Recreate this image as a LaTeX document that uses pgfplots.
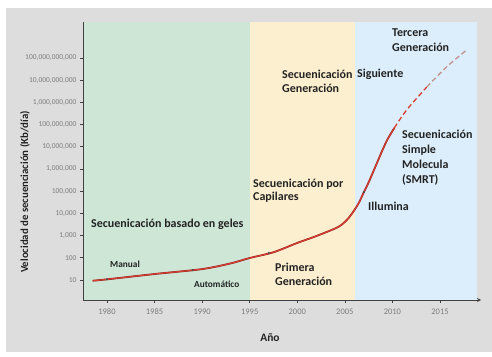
\documentclass[border=0pt]{standalone}
\usepackage{pgfplots}
\pgfplotsset{compat=1.18}
\usepackage{fontspec}
\setmainfont{Carlito}
\definecolor{bgpanel}{RGB}{221,221,221}
\definecolor{gelgreen}{RGB}{205,230,213}
\definecolor{capyellow}{RGB}{252,239,207}
\definecolor{ngsblue}{RGB}{220,238,251}
\definecolor{curvered}{RGB}{218,60,50}
\definecolor{txt}{RGB}{35,35,35}
\definecolor{ticktxt}{RGB}{125,125,125}
\begin{document}
\begin{tikzpicture}[x=1pt,y=1pt]
\useasboundingbox (0,0) rectangle (492,356);
\fill[white] (0,0) rectangle (492,356);
\fill[bgpanel] (6,4) rectangle (492,348);
\begin{axis}[
  scale only axis,
  width=398pt, height=278pt,
  at={(83pt,56pt)}, anchor=south west,
  xmin=1977.48, xmax=2019.31,
  ymode=log, ymin=1.256, ymax=4.2e12,
  axis x line=bottom, axis y line=left,
  axis line style={black!75, line width=0.8pt},
  x axis line style={-stealth},
  y axis line style={-},
  axis on top,
  xtick={1980,1985,...,2015},
  xticklabels={1980,1985,1990,1995,2000,2005,2010,2015},
  ytick={1e1,1e2,1e3,1e4,1e5,1e6,1e7,1e8,1e9,1e10,1e11},
  yticklabels={10,100,{1,000},{10,000},{100,000},{1,000,000},{10,000,000},{100,000,000},{1,000,000,000},{10,000,000,000},{100,000,000,000}},
  minor tick num=0, yminorticks=false,
  tick align=outside, major tick length=3pt,
  tick style={black!75, line width=0.7pt},
  yticklabel style={font=\fontsize{7.5pt}{8pt}\selectfont, text=ticktxt},
  xticklabel style={font=\fontsize{8.5pt}{9pt}\selectfont, text=ticktxt, yshift=-2pt},
]
\fill[gelgreen] (axis cs:1977.48,1.256) rectangle (axis cs:1995.03,4.2e12);
\fill[capyellow] (axis cs:1995.03,1.256) rectangle (axis cs:2006.07,4.2e12);
\fill[ngsblue] (axis cs:2006.07,1.256) rectangle (axis cs:2018.89,4.2e12);
% main curve (solid)
\addplot[smooth, line width=1.8pt, color=black!35!curvered] coordinates {
  (1978.5,9.3) (1980,10.7) (1985,18.6) (1990,31) (1993,56) (1995,98)
  (1997.5,178) (2000,468) (2002,955) (2004.3,2450) (2005.3,5600)
  (2006,14100) (2006.5,31600) (2007,91200) (2007.5,2.5e5) (2008,7.9e5)
  (2008.5,2.5e6) (2009,7.9e6) (2009.5,2.24e7) (2010.2,7.1e7)
};
\addplot[smooth, line width=1.1pt, color=curvered] coordinates {
  (1978.5,9.3) (1980,10.7) (1985,18.6) (1990,31) (1993,56) (1995,98)
  (1997.5,178) (2000,468) (2002,955) (2004.3,2450) (2005.3,5600)
  (2006,14100) (2006.5,31600) (2007,91200) (2007.5,2.5e5) (2008,7.9e5)
  (2008.5,2.5e6) (2009,7.9e6) (2009.5,2.24e7) (2010.2,7.1e7)
};
% projected curve (dashed)
\addplot[smooth, line width=1.3pt, color=curvered, dash pattern=on 5pt off 3pt] coordinates {
  (2010.2,7.1e7) (2011.5,4.6e8) (2013.6,4.9e9)
};
\addplot[smooth, line width=1.3pt, color=curvered!45!gray!70, dash pattern=on 5pt off 3pt] coordinates {
  (2013.6,4.9e9) (2015.7,4.0e10) (2017.8,2.3e11)
};
% small markers on the curve
\addplot[only marks, mark=*, mark size=0.8pt, black!70] coordinates {
  (1980,10.7) (1989,28) (1997,165) (2007,91200)
};
\end{axis}
% axis titles
\node[rotate=90, font=\fontsize{10.8pt}{11pt}\selectfont\bfseries, text=txt] at (25,164) {Velocidad de secuenciación (Kb/día)};
\node[font=\fontsize{11.5pt}{12pt}\selectfont\bfseries, text=txt] at (270,18) {Año};
% annotations
\begin{scope}[every node/.style={anchor=west, text=txt, inner sep=0pt, align=left}]
\node[font=\fontsize{12pt}{13pt}\selectfont\bfseries] at (91,132) {Secuenicación basado en geles};
\node[font=\fontsize{9.3pt}{10pt}\selectfont\bfseries] at (110,92) {Manual};
\node[font=\fontsize{9.3pt}{10pt}\selectfont\bfseries] at (194,72) {Automático};
\node[font=\fontsize{12pt}{14pt}\selectfont\bfseries] at (275,82) {Primera\\Generación};
\node[font=\fontsize{12pt}{13.5pt}\selectfont\bfseries] at (253,165.5) {Secuenicación por\\Capilares};
\node[font=\fontsize{12pt}{13pt}\selectfont\bfseries] at (368,150) {Illumina};
\node[font=\fontsize{12pt}{15pt}\selectfont\bfseries] at (402,198.5) {Secuenicación\\Simple\\Molecula\\(SMRT)};
\node[font=\fontsize{12pt}{14pt}\selectfont\bfseries] at (282,275) {Secuenicación\\Generación};
\node[font=\fontsize{12pt}{13pt}\selectfont\bfseries] at (357,282) {Siguiente};
\node[font=\fontsize{12pt}{15pt}\selectfont\bfseries] at (392,315.5) {Tercera\\Generación};
\end{scope}
\end{tikzpicture}
\end{document}
